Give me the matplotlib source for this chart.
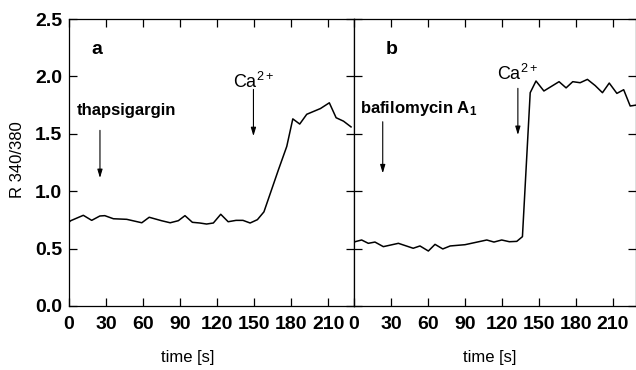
import matplotlib.pyplot as plt

plt.rcParams['font.family'] = ['Liberation Sans', 'DejaVu Sans']
plt.rcParams['mathtext.fontset'] = 'custom'
plt.rcParams['mathtext.rm'] = 'Liberation Sans'
plt.rcParams['mathtext.bf'] = 'Liberation Sans:bold'
plt.rcParams['mathtext.default'] = 'rm'

# panel a: thapsigargin
t_a = [0, 1.4, 11.6, 18.4, 25, 29, 36, 46.8, 59, 65, 75, 82, 88.6, 94, 100, 106,
       111.5, 117, 123, 129, 135.4, 141, 146.8, 152.7, 158, 169.7, 176.5, 181.4,
       187, 192.7, 203.8, 211, 216.5, 222.5, 228.6]
r_a = [0.73, 0.743, 0.79, 0.746, 0.784, 0.787, 0.76, 0.755, 0.725, 0.773, 0.743,
       0.725, 0.743, 0.787, 0.729, 0.723, 0.714, 0.723, 0.799, 0.734, 0.746, 0.746,
       0.723, 0.752, 0.82, 1.185, 1.39, 1.63, 1.585, 1.67, 1.72, 1.77, 1.64, 1.61, 1.56]

# panel b: bafilomycin A1
t_b = [0, 0.8, 6.2, 11.6, 17, 23.8, 36, 48, 53.5, 60.3, 65.7, 72, 78, 90, 107.7,
       113.5, 119.8, 126, 132, 136.6, 142.9, 147.6, 154, 166.3, 172, 177.4, 183.4,
       189.3, 195.6, 201.5, 207, 213.2, 218.7, 224, 228.7]
r_b = [0.55, 0.56, 0.575, 0.546, 0.557, 0.517, 0.546, 0.503, 0.523, 0.479, 0.537,
       0.497, 0.523, 0.534, 0.575, 0.557, 0.575, 0.56, 0.563, 0.604, 1.858, 1.96,
       1.873, 1.954, 1.9, 1.954, 1.945, 1.974, 1.92, 1.858, 1.942, 1.852, 1.884,
       1.742, 1.75]

xticks = [0, 30, 60, 90, 120, 150, 180, 210]
yticks = [0.0, 0.5, 1.0, 1.5, 2.0, 2.5]
ytick_labels = ['0.0', '0.5', '1.0', '1.5', '2.0', '2.5']

fig = plt.figure(figsize=(6.36, 3.70), dpi=100)
ax_a = fig.add_axes([69/636, 1 - 306/370, 285/636, 287/370])
ax_b = fig.add_axes([354/636, 1 - 306/370, 282/636, 287/370])

for ax in (ax_a, ax_b):
    ax.set_ylim(0, 2.5)
    ax.set_xticks(xticks)
    ax.set_xticklabels([str(v) for v in xticks], fontweight='bold')
    ax.set_yticks(yticks)
    ax.tick_params(direction='in', length=6, width=0.9, top=True, right=True,
                   labelsize=14, pad=7)
    for s in ax.spines.values():
        s.set_linewidth(0.9)

ax_a.set_xlim(0, 231)
ax_b.set_xlim(0, 228.7)
ax_b.tick_params(labelleft=False)
ax_a.set_yticklabels(ytick_labels, fontweight='bold')
ax_a.tick_params(axis='y', pad=5)

ax_a.plot(t_a, r_a, color='black', lw=1.1)
ax_b.plot(t_b, r_b, color='black', lw=1.1)

ax_a.set_ylabel('R 340/380', fontsize=12, va='center')
ax_a.yaxis.set_label_coords(-0.182, 0.509)
for ax, xc in ((ax_a, 0.418), (ax_b, 0.482)):
    ax.set_xlabel('time [s]', fontsize=12, va='center')
    ax.xaxis.set_label_coords(xc, -0.18)

arrow = dict(arrowstyle='-|>,head_length=0.5,head_width=0.15', color='black', lw=0.8,
             shrinkA=0, shrinkB=0)

ax_a.text(22.7, 2.23, 'a', fontsize=14, fontweight='bold', ha='center', va='center')
ax_a.text(6.5, 1.707, 'thapsigargin', fontsize=12, fontweight='bold', va='center')
ax_a.annotate('', xy=(25.1, 1.115), xytext=(25.1, 1.53), arrowprops=arrow)
ax_a.text(150, 1.90, 'Ca$^{2+}$', fontsize=13, ha='center', va='baseline')
ax_a.annotate('', xy=(149.5, 1.48), xytext=(149.5, 1.887), arrowprops=arrow)

ax_b.text(30.5, 2.23, 'b', fontsize=14, fontweight='bold', ha='center', va='center')
ax_b.text(4.9, 1.72, 'bafilomycin A$_\\mathbf{1}$', fontsize=12, fontweight='bold',
          va='center')
ax_b.annotate('', xy=(23.3, 1.156), xytext=(23.3, 1.605), arrowprops=arrow)
ax_b.text(133, 1.97, 'Ca$^{2+}$', fontsize=13, ha='center', va='baseline')
ax_b.annotate('', xy=(132.9, 1.49), xytext=(132.9, 1.896), arrowprops=arrow)

fig.savefig('out.png', dpi=100)
